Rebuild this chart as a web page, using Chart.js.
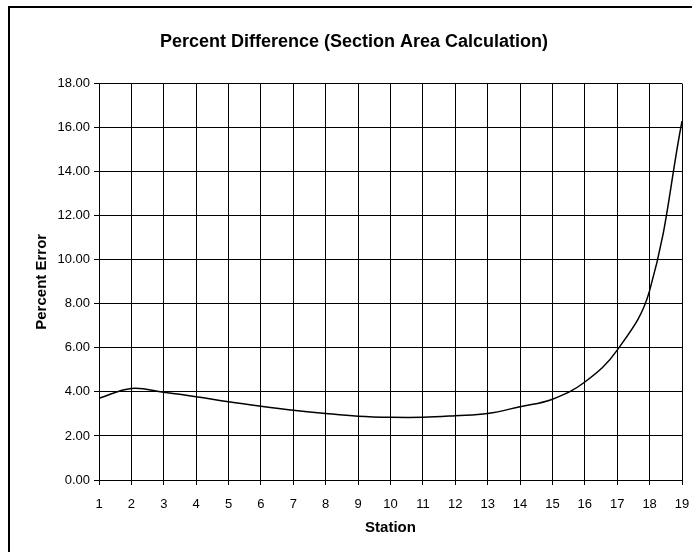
<!DOCTYPE html>
<html>
<head>
<meta charset="utf-8">
<script src="https://cdn.jsdelivr.net/npm/chart.js@4/dist/chart.umd.min.js"></script>
<style>
  html, body { margin: 0; padding: 0; background: #fff; }
  #wrap { width: 692px; height: 552px; }
</style>
</head>
<body>
<div id="wrap"><canvas id="myChart" width="692" height="552"></canvas></div>
<script>
const stations = ['1', '2', '3', '4', '5', '6', '7', '8', '9', '10', '11', '12', '13', '14', '15', '16', '17', '18', '19'];
const percentError = [3.71, 4.16, 3.98, 3.78, 3.55, 3.35, 3.17, 3.02, 2.9, 2.85, 2.85, 2.92, 3.02, 3.33, 3.67, 4.45, 5.9, 8.6, 16.3];

// outer frame of the chart sheet (only top and left edges show)
const frame = {
    id: 'frame',
    beforeDraw(chart) {
        const ctx = chart.ctx;
        ctx.save();
        ctx.fillStyle = '#fff';
        ctx.fillRect(0, 0, chart.width, chart.height);
        ctx.strokeStyle = '#000';
        ctx.lineWidth = 2;
        ctx.strokeRect(9, 7, chart.width + 20, chart.height + 20);
        ctx.restore();
    }
};

const ctx = document.getElementById('myChart').getContext('2d');
const chart = new Chart(ctx, {
    type: 'line',
    data: {
        labels: stations,
        datasets: [{
            label: 'Percent Error',
            data: percentError,
            borderColor: '#000',
            borderWidth: 1.5,
            pointRadius: 0,
            tension: 0.4,
            fill: false
        }]
    },
    options: {
        responsive: false,
        animation: false,
        layout: { padding: { left: 16, right: 0, top: 0, bottom: 0 } },
        plugins: {
            legend: { display: false },
            tooltip: { enabled: false },
            title: {
                display: true,
                text: 'Percent Difference (Section Area Calculation)',
                color: '#000',
                font: { family: 'Liberation Sans, Arial', size: 18, weight: 'bold' },
                padding: { top: 31, bottom: 31 }
            }
        },
        scales: {
            x: {
                offset: false,
                grid: { color: '#000', tickLength: 5, lineWidth: 1 },
                border: { color: '#000', width: 1 },
                ticks: { color: '#000', font: { family: 'Liberation Sans, Arial', size: 13 }, padding: 12, maxRotation: 0 },
                title: {
                    display: true, text: 'Station', color: '#000',
                    font: { family: 'Liberation Sans, Arial', size: 15, weight: 'bold' },
                    padding: { top: 6, bottom: 15 }
                },
                afterFit(scale) {
                    scale.height = 72;
                    scale.paddingRight = 10;
                    scale.paddingLeft = 0;
                }
            },
            y: {
                min: 0, max: 18,
                grid: { color: '#000', tickLength: 5, lineWidth: 1 },
                border: { color: '#000', width: 1 },
                ticks: {
                    stepSize: 2, color: '#000', padding: 4,
                    font: { family: 'Liberation Sans, Arial', size: 13 },
                    callback: v => v.toFixed(2)
                },
                title: {
                    display: true, text: 'Percent Error', color: '#000',
                    font: { family: 'Liberation Sans, Arial', size: 15, weight: 'bold' },
                    padding: { top: 17, bottom: 4 }
                },
                afterFit(scale) { scale.width = 83; }
            }
        }
    },
    plugins: [frame]
});
</script>
</body>
</html>
